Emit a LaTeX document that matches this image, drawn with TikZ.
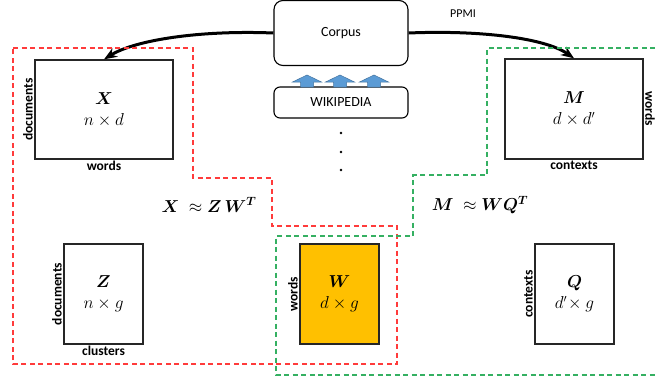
\documentclass[tikz,border=0pt]{standalone}
\usepackage{amsmath,amssymb,bm}
\usepackage{fontspec}
\setmainfont{Carlito}
\usetikzlibrary{arrows.meta,positioning}
\definecolor{redd}{HTML}{FF3B3B}
\definecolor{greend}{HTML}{35B062}
\definecolor{goldx}{HTML}{FFC000}
\definecolor{bluex}{HTML}{5B9BD5}

\begin{document}
\begin{tikzpicture}[x=1pt,y=-1pt,font=\fontsize{14}{16}\selectfont,
  mat/.style={draw=black!85,line width=1.3pt,align=center,inner sep=0pt,font=\fontsize{16}{21}\selectfont},
  src/.style={draw=black,line width=1.1pt,rounded corners=9pt,minimum width=134pt},
  lab/.style={font=\fontsize{13.5}{15}\selectfont\bfseries,inner sep=1.5pt},
  flow/.style={line width=3pt,-{Stealth[length=13pt,width=10pt]}},
  part/.style={dashed,dash pattern=on 5pt off 3.5pt,line width=1.4pt}]
\useasboundingbox (0,0) rectangle (655,381);
% sources
\node[src,minimum height=65pt] (corpus) at (341,33) {Corpus};
\node[src,minimum height=31pt,rounded corners=6pt] (wiki) at (341,102.5) {WIKIPEDIA};
\foreach \x in {307,340,374}{\draw[fill=bluex,draw=bluex!75!black,line width=.5pt] (\x-6.5,87) -- (\x-6.5,82) -- (\x-14.5,82) -- (\x,75) -- (\x+14.5,82) -- (\x+6.5,82) -- (\x+6.5,87) -- cycle;}
\foreach \y in {133,152,170}{\fill (341,\y) circle (1.3pt);}
% matrices
\node[mat,minimum width=138pt,minimum height=99pt] (X) at (104,109.5) {$\bm{X}$\\$n\times d$};
\node[mat,minimum width=138pt,minimum height=100pt] (M) at (574,109) {$\bm{M}$\\$d\times d'$};
\node[mat,minimum width=79pt,minimum height=100pt] (Z) at (103.5,294) {$\bm{Z}$\\$n\times g$};
\node[mat,minimum width=79pt,minimum height=100pt,fill=goldx] (W) at (339.5,294) {$\bm{W}$\\$d\times g$};
\node[mat,minimum width=79pt,minimum height=100pt] (Q) at (574.5,294) {$\bm{Q}$\\$d'\!\times g$};
\node[lab,rotate=90,anchor=south] (Xl) at (X.west) {documents};
\node[lab,anchor=north] (Xb) at (X.south) {words};
\node[lab,rotate=-90,anchor=south] (Ml) at (M.east) {words};
\node[lab,anchor=north] (Mb) at (M.south) {contexts};
\node[lab,rotate=90,anchor=south] (Zl) at (Z.west) {documents};
\node[lab,anchor=north] (Zb) at (Z.south) {clusters};
\node[lab,rotate=90,anchor=south] (Wl) at (W.west) {words};
\node[lab,rotate=90,anchor=south] (Ql) at (Q.west) {contexts};
% factorisations
\node[font=\fontsize{18}{20}\selectfont] (eqX) at (209,205) {$\bm{X}\;\approx\bm{Z}\,\bm{W}^{\bm{T}}$};
\node[font=\fontsize{18}{20}\selectfont] (eqM) at (480,205) {$\bm{M}\;\approx\bm{W}\bm{Q}^{\bm{T}}$};
% arrows
\draw[flow] (corpus.west) .. controls (200,30) and (135,40) .. (X.north);
\draw[flow] (corpus.east) .. controls (480,30) and (545,38) .. (M.north);
\node[font=\fontsize{12}{14}\selectfont] (ppmi) at (463,14) {PPMI};
% groups
\draw[part,redd] (13,48) -- (193,48) -- (193,178) -- (272,178) -- (272,226) -- (397,226) -- (397,364) -- (13,364) -- cycle;
\draw[part,greend] (655,48) -- (487,48) -- (487,175) -- (413,175) -- (413,236) -- (276,236) -- (276,375) -- (655,375);
\end{tikzpicture}
\end{document}
